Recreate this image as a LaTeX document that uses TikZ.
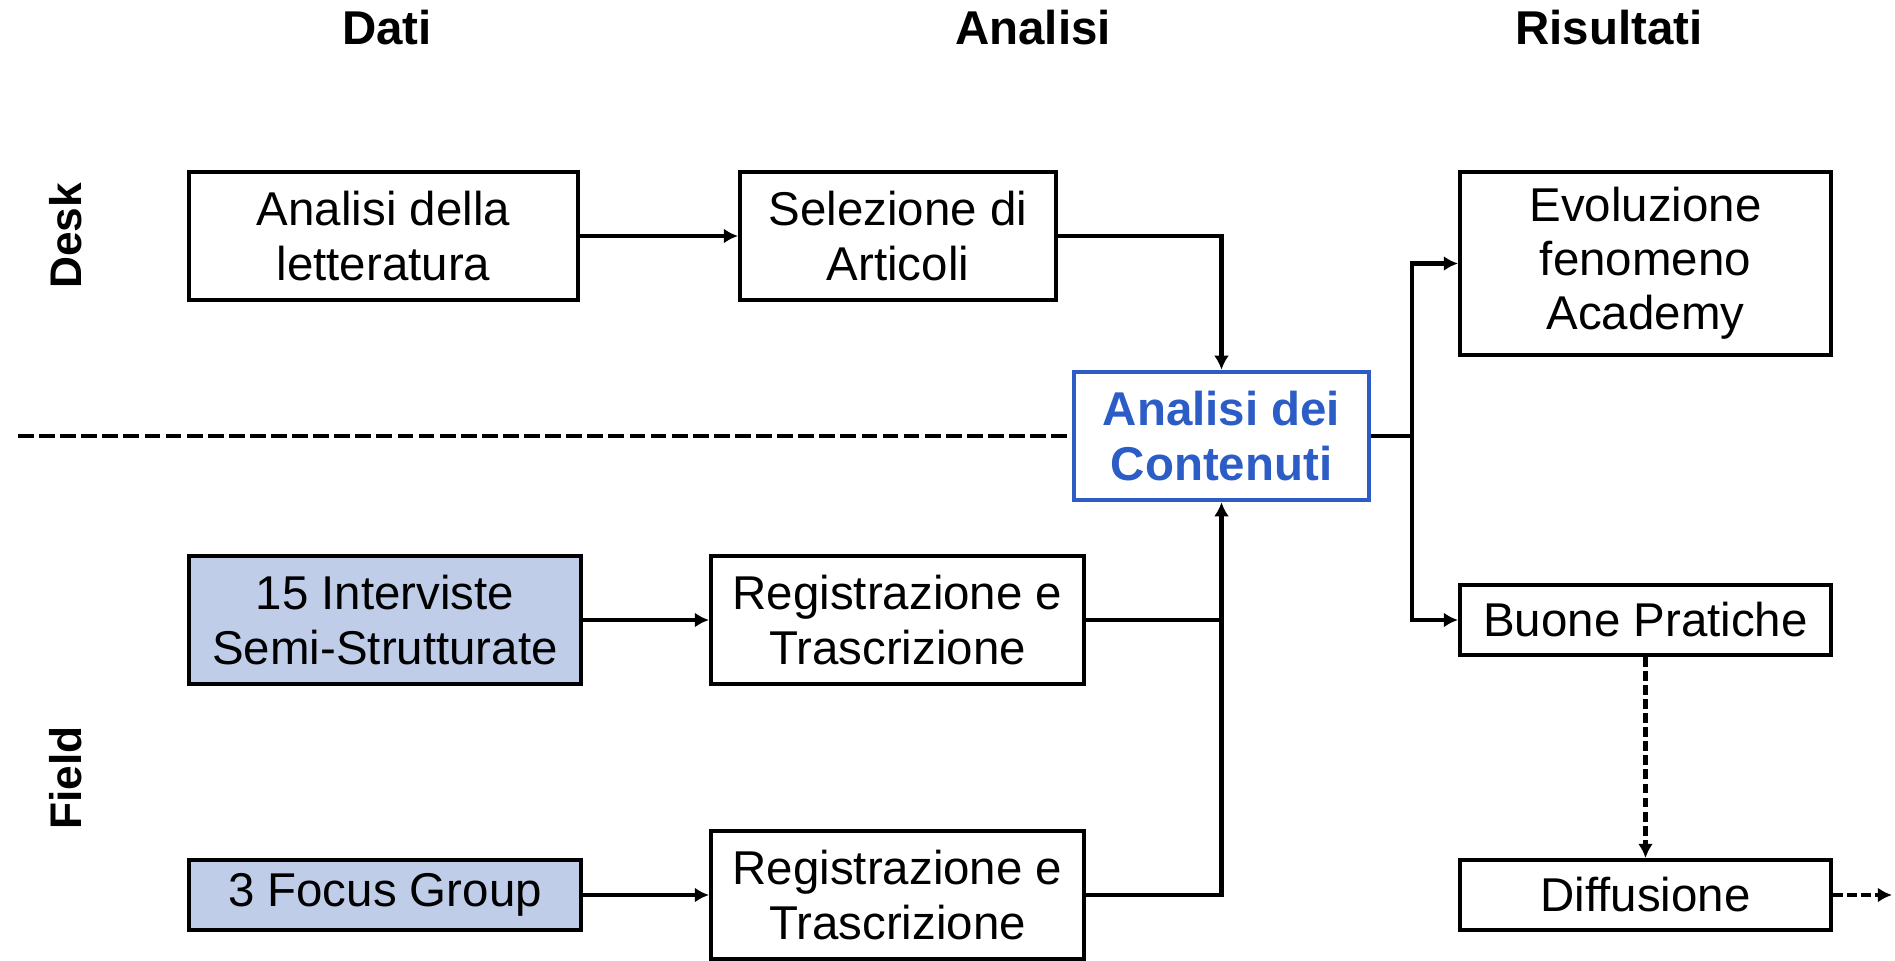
\documentclass[tikz,border=0pt]{standalone}
\usepackage{fontspec}
\setmainfont{Liberation Sans}
\usepackage{tikz}
\usepackage{xcolor}
\usetikzlibrary{shapes,arrows,arrows.meta,positioning,calc}

\definecolor{blucont}{RGB}{44,92,197}
\definecolor{azzurro}{RGB}{191,205,232}

\begin{document}
\begin{tikzpicture}[
        node distance=0.6cm,
        >={Latex[length=4pt,width=4.2pt]},
        box/.style={rectangle, draw, line width=1.15pt, inner sep=0pt, align=center, minimum height=1.28cm, font=\fontsize{13.5}{15.4}\selectfont},
        dato/.style={box, fill=azzurro},
        titolo/.style={font=\fontsize{13.5}{16}\selectfont\bfseries},
        lato/.style={font=\fontsize{12.6}{15}\selectfont\bfseries, rotate=90},
        freccia/.style={line width=1.25pt},
        tratto/.style={freccia, dash pattern=on 2.8pt off 1.2pt}
      ]
        \useasboundingbox (0,0) rectangle (18.95,9.6);

        % intestazioni
        \node[titolo] (tdati) at (3.87,9.32) {Dati};
        \node[titolo] (tanalisi) at (10.33,9.32) {Analisi};
        \node[titolo] (trisultati) at (16.09,9.32) {Risultati};
        \node[lato] (desk) at (0.66,7.24) {Desk};
        \node[lato] (field) at (0.66,1.82) {Field};

        % desk
        \node[box, minimum width=3.89cm] (lett) at (3.835,7.24) {Analisi della\\letteratura};
        \node[box, minimum width=3.16cm] (sel) at (8.98,7.24) {Selezione di\\Articoli};

        % contenuti
        \node[box, draw=blucont, line width=1.25pt, text=blucont, font=\fontsize{13.5}{15.4}\selectfont\bfseries, minimum width=2.95cm] (cont) at (12.215,5.24) {Analisi dei\\Contenuti};

        % field
        \node[dato, minimum width=3.92cm] (intv) at (3.85,3.40) {15 Interviste\\Semi-Strutturate};
        \node[box, minimum width=3.73cm] (reg1) at (8.975,3.40) {Registrazione e\\Trascrizione};
        \node[dato, minimum width=3.92cm, minimum height=0.70cm] (focus) at (3.85,0.65) {3 Focus Group};
        \node[box, minimum width=3.73cm] (reg2) at (8.975,0.65) {Registrazione e\\Trascrizione};

        % risultati
        \node[box, minimum width=3.71cm, minimum height=1.83cm] (evol) at (16.455,6.965) {Evoluzione\\fenomeno\\Academy};
        \node[box, minimum width=3.71cm, minimum height=0.70cm] (buone) at (16.455,3.40) {Buone Pratiche};
        \node[box, minimum width=3.71cm, minimum height=0.70cm] (diff) at (16.455,0.65) {Diffusione};

        \coordinate (sinistra) at (0.18,5.24);
        \coordinate (split) at (14.12,5.24);
        \coordinate (fuori) at (18.92,0.65);

        % separatore
        \draw[freccia, line width=1.3pt, dash pattern=on 4.5pt off 1.5pt] (sinistra) -- (cont.west);

        % connessioni
        \draw[freccia, ->] (lett) -- (sel);
        \draw[freccia, ->] (sel.east) -| (cont.north);
        \draw[freccia, ->] (intv) -- (reg1);
        \draw[freccia, ->] (focus) -- (reg2);
        \draw[freccia] (reg1.east) -- (reg1.east -| cont.south);
        \draw[freccia, ->] (reg2.east) -| (cont.south);
        \draw[freccia] (cont.east) -- (split);
        \draw[freccia, ->] (split) |- (evol.west);
        \draw[freccia, ->] (split) |- (buone.west);
        \draw[tratto, ->] (buone) -- (diff);
        \draw[tratto, ->] (diff) -- (fuori);

      \end{tikzpicture}
\end{document}
